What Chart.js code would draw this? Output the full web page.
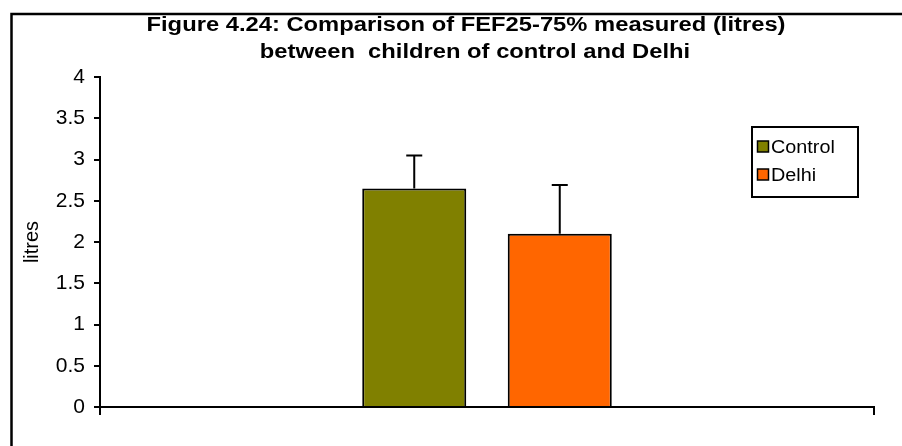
<!DOCTYPE html>
<html><head><meta charset="utf-8">
<script src="https://cdn.jsdelivr.net/npm/chart.js@4"></script>
<style>html,body{margin:0;padding:0;background:#fff}#wrap{width:902px;height:446px;position:relative}</style>
</head><body><div id="wrap"><canvas id="c" width="902" height="446"></canvas></div>
<script>
const categories = [''];
const seriesLabels = ['Control', 'Delhi'];
const controlValues = [2.65];
const delhiValues = [2.1];
const controlErrors = [0.4];
const delhiErrors = [0.59];
const yTicks = [0, 0.5, 1, 1.5, 2, 2.5, 3, 3.5, 4];
const titleLines = ['Figure 4.24: Comparison of FEF25-75% measured (litres)', 'between  children of control and Delhi'];
const yAxisTitle = 'litres';
const seriesColors = ['#808000', '#FF6600'];

const FONT = 'Arial, "Liberation Sans", sans-serif';

const framePlugin = {
  id: 'frame',
  afterDraw(chart) {
    const ctx = chart.ctx;
    ctx.save();
    ctx.strokeStyle = '#000';
    ctx.lineWidth = 2.5;
    ctx.beginPath();
    ctx.moveTo(11.5, 446); ctx.lineTo(11.5, 14); ctx.lineTo(902, 14);
    ctx.stroke();
    ctx.restore();
  }
};

const titlePlugin = {
  id: 'customTitle',
  afterDraw(chart) {
    const ctx = chart.ctx;
    ctx.save();
    ctx.fillStyle = '#000';
    ctx.font = 'bold 20px ' + FONT;
    ctx.textBaseline = 'alphabetic';
    const w0 = ctx.measureText(titleLines[0]).width;
    const sx = 639 / w0;
    const centers = [466, 475];
    const baselines = [31, 58];
    titleLines.forEach((t, i) => {
      const w = ctx.measureText(t).width * sx;
      ctx.save();
      ctx.translate(centers[i] - w / 2, baselines[i]);
      ctx.scale(sx, 1);
      ctx.fillText(t, 0, 0);
      ctx.restore();
    });
    ctx.restore();
  }
};

const errorPlugin = {
  id: 'errorBars',
  afterDatasetsDraw(chart) {
    const ctx = chart.ctx;
    const ys = chart.scales.y;
    ctx.save();
    ctx.strokeStyle = '#000';
    ctx.lineWidth = 2;
    chart.data.datasets.forEach((ds, di) => {
      const meta = chart.getDatasetMeta(di);
      meta.data.forEach((bar, i) => {
        const v = ds.data[i];
        const e = ds.errors[i];
        const yTop = ys.getPixelForValue(v + e);
        const yBar = ys.getPixelForValue(v);
        ctx.beginPath();
        ctx.moveTo(bar.x, yBar);
        ctx.lineTo(bar.x, yTop);
        ctx.moveTo(bar.x - 8, yTop);
        ctx.lineTo(bar.x + 8, yTop);
        ctx.stroke();
      });
    });
    ctx.restore();
  }
};

const legendPlugin = {
  id: 'customLegend',
  afterDraw(chart) {
    const ctx = chart.ctx;
    ctx.save();
    ctx.strokeStyle = '#000';
    ctx.lineWidth = 2;
    ctx.fillStyle = '#fff';
    ctx.fillRect(752, 127, 106, 70);
    ctx.strokeRect(752, 127, 106, 70);
    ctx.font = '18px ' + FONT;
    ctx.textBaseline = 'alphabetic';
    const rows = [153, 181];
    chart.data.datasets.forEach((ds, i) => {
      const y = rows[i];
      ctx.fillStyle = ds.backgroundColor;
      ctx.fillRect(757.5, y - 12, 11, 11);
      ctx.lineWidth = 1.5;
      ctx.strokeRect(757.5, y - 12, 11, 11);
      ctx.fillStyle = '#000';
      ctx.save();
      ctx.translate(771, y);
      ctx.scale(1.1, 1);
      ctx.fillText(ds.label, 0, 0);
      ctx.restore();
    });
    ctx.restore();
  }
};

new Chart(document.getElementById('c'), {
  type: 'bar',
  data: {
    labels: categories,
    datasets: [
      { label: seriesLabels[0], data: controlValues, errors: controlErrors, backgroundColor: seriesColors[0], borderColor: '#000', borderWidth: 2 },
      { label: seriesLabels[1], data: delhiValues, errors: delhiErrors, backgroundColor: seriesColors[1], borderColor: '#000', borderWidth: 2 }
    ]
  },
  options: {
    responsive: false,
    animation: false,
    devicePixelRatio: 1,
    categoryPercentage: 0.376,
    barPercentage: 0.715,
    layout: { padding: { left: 0, top: 77, right: 28, bottom: 0 } },
    plugins: { legend: { display: false }, title: { display: false }, tooltip: { enabled: false } },
    scales: {
      x: {
        offset: true,
        grid: { offset: true, drawOnChartArea: false, drawTicks: true, tickLength: 8, color: '#000', lineWidth: 2 },
        border: { color: '#000', width: 2 },
        ticks: { display: false },
        afterFit: s => { s.height = 39; }
      },
      y: {
        min: 0, max: 4,
        afterBuildTicks: s => { s.ticks = yTicks.map(v => ({ value: v })); },
        ticks: { color: '#000', font: { family: FONT, size: 21 }, padding: 9, callback: v => String(v) },
        grid: { drawOnChartArea: false, drawTicks: true, tickLength: 6, color: '#000', lineWidth: 2 },
        border: { color: '#000', width: 2 },
        title: { display: true, text: yAxisTitle, color: '#000', font: { family: FONT, size: 20 }, padding: { top: 20, bottom: 0 } },
        afterFit: s => { s.width = 100; }
      }
    }
  },
  plugins: [errorPlugin, framePlugin, titlePlugin, legendPlugin]
});
</script>
</body></html>
